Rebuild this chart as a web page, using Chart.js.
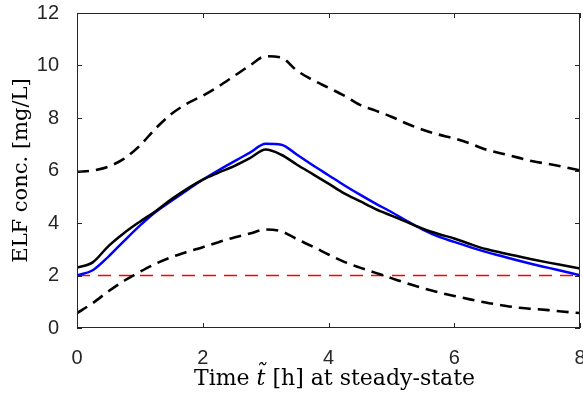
<!DOCTYPE html>
<html>
<head>
<meta charset="utf-8">
<script src="https://cdn.jsdelivr.net/npm/chart.js@4/dist/chart.umd.min.js"></script>
<style>
  html, body { margin: 0; padding: 0; background: #fff; }
  #wrap { width: 583px; height: 395px; }
</style>
</head>
<body>
<div id="wrap"><canvas id="elf"></canvas></div>
<script>
// ===== DATA =====
const times = [0, 0.25, 0.5, 0.75, 1, 1.25, 1.5, 1.75, 2, 2.25, 2.5, 2.75, 3, 3.25, 3.5, 3.75,
  4, 4.25, 4.5, 4.75, 5, 5.25, 5.5, 5.75, 6, 6.25, 6.5, 6.75, 7, 7.25, 7.5, 7.75, 8];

const medianConc = [2.3, 2.5, 3.12, 3.62, 4.05, 4.45, 4.9, 5.3, 5.65, 5.92, 6.17, 6.47, 6.8, 6.6, 6.22, 5.86,
  5.5, 5.13, 4.83, 4.53, 4.28, 4.03, 3.78, 3.58, 3.41, 3.2, 3.01, 2.87, 2.74, 2.61, 2.49, 2.38, 2.27];

const typicalConc = [2.0, 2.2, 2.72, 3.32, 3.9, 4.42, 4.84, 5.25, 5.65, 6.01, 6.35, 6.68, 7.02, 6.98, 6.6, 6.2,
  5.82, 5.44, 5.08, 4.74, 4.42, 4.07, 3.75, 3.48, 3.28, 3.08, 2.9, 2.74, 2.58, 2.43, 2.29, 2.15, 2.01];

const upperConc = [5.95, 6.0, 6.15, 6.45, 6.95, 7.6, 8.15, 8.55, 8.85, 9.2, 9.6, 10.0, 10.35, 10.3, 9.8, 9.45,
  9.15, 8.85, 8.5, 8.28, 8.05, 7.78, 7.55, 7.37, 7.22, 7.03, 6.8, 6.65, 6.5, 6.35, 6.25, 6.13, 6.0];

const lowerConc = [0.57, 0.95, 1.4, 1.8, 2.14, 2.45, 2.7, 2.9, 3.08, 3.27, 3.45, 3.6, 3.75, 3.68, 3.38, 3.1,
  2.8, 2.52, 2.3, 2.1, 1.9, 1.7, 1.52, 1.36, 1.22, 1.09, 0.97, 0.87, 0.78, 0.73, 0.68, 0.62, 0.57];

const targetConc = 2;       // MIC threshold
const xTicks = [0, 2, 4, 6, 8];
const yTicks = [0, 2, 4, 6, 8, 10, 12];

const AXIS = '#262626';
const pts = (arr) => times.map((t, i) => ({ x: t, y: arr[i] }));

// ===== BOX + INWARD TICKS (matlab style) =====
const boxPlugin = {
  id: 'box',
  afterDraw(chart) {
    const { ctx, chartArea: a, scales: { x, y } } = chart;
    ctx.save();
    ctx.strokeStyle = AXIS;
    ctx.lineWidth = 1;
    ctx.strokeRect(a.left + 0.5, a.top + 0.5, a.right - a.left - 1, a.bottom - a.top - 1);
    const len = 5;
    ctx.beginPath();
    xTicks.forEach(v => {
      const px = Math.round(x.getPixelForValue(v)) + 0.5;
      ctx.moveTo(px, a.bottom); ctx.lineTo(px, a.bottom - len);
      ctx.moveTo(px, a.top); ctx.lineTo(px, a.top + len);
    });
    yTicks.forEach(v => {
      const py = Math.round(y.getPixelForValue(v)) + 0.5;
      ctx.moveTo(a.left, py); ctx.lineTo(a.left + len, py);
      ctx.moveTo(a.right, py); ctx.lineTo(a.right - len, py);
    });
    ctx.stroke();

    // x axis title, with italic t-tilde
    ctx.fillStyle = '#000';
    ctx.textBaseline = 'alphabetic';
    const serif = "22px 'DejaVu Serif', serif";
    const ital = "italic 22px 'DejaVu Serif', serif";
    const parts = [['Time ', serif], ['t̃', ital], [' [h] at steady-state', serif]];
    let w = 0;
    parts.forEach(([s, f]) => { ctx.font = f; w += ctx.measureText(s).width; });
    let cx = (a.left + a.right) / 2 - w / 2 + 6;
    parts.forEach(([s, f]) => { ctx.font = f; ctx.fillText(s, cx, 385); cx += ctx.measureText(s).width; });
    ctx.restore();
  }
};

const tickFont = { family: "'Liberation Sans', Arial, sans-serif", size: 20 };

new Chart(document.getElementById('elf'), {
  type: 'scatter',
  data: {
    datasets: [
      {
        label: 'upper',
        data: pts(upperConc),
        borderColor: '#000',
        borderWidth: 2.6,
        borderDash: [12, 7],
        showLine: true,
        pointRadius: 0,
        cubicInterpolationMode: 'monotone',
      },
      {
        label: 'lower',
        data: pts(lowerConc),
        borderColor: '#000',
        borderWidth: 2.6,
        borderDash: [12, 7],
        showLine: true,
        pointRadius: 0,
        cubicInterpolationMode: 'monotone',
      },
      {
        label: 'median',
        data: pts(medianConc),
        borderColor: '#000',
        borderWidth: 2.5,
        showLine: true,
        pointRadius: 0,
        cubicInterpolationMode: 'monotone',
      },
      {
        label: 'typical',
        data: pts(typicalConc),
        borderColor: '#0000ff',
        borderWidth: 2.5,
        showLine: true,
        pointRadius: 0,
        cubicInterpolationMode: 'monotone',
      },
      {
        label: 'target',
        data: [{ x: 0, y: targetConc }, { x: 8, y: targetConc }],
        borderColor: 'rgb(255, 0, 0)',
        backgroundColor: 'rgb(255, 0, 0)',
        borderWidth: 1.4,
        borderDash: [13, 8],
        showLine: true,
        pointRadius: 0,
      },
    ]
  },
  options: {
    responsive: true,
    maintainAspectRatio: false,
    animation: false,
    layout: { padding: { left: 0, right: 3, top: 13, bottom: 0 } },
    plugins: {
      legend: { display: false },
      tooltip: { enabled: false },
    },
    scales: {
      x: {
        type: 'linear',
        min: 0, max: 8,
        afterBuildTicks: (s) => { s.ticks = xTicks.map(v => ({ value: v })); },
        afterFit: (s) => { s.height = 67; s.paddingLeft = 0; s.paddingRight = 0; },
        grid: { display: false },
        border: { display: false },
        ticks: { font: tickFont, color: AXIS, padding: 10, maxRotation: 0 },
      },
      y: {
        min: 0, max: 12,
        afterBuildTicks: (s) => { s.ticks = yTicks.map(v => ({ value: v })); },
        afterFit: (s) => { s.width = 77; s.paddingTop = 0; s.paddingBottom = 0; },
        grid: { display: false },
        border: { display: false },
        ticks: { font: tickFont, color: AXIS, padding: 10 },
        title: {
          display: true,
          text: 'ELF conc. [mg/L]',
          font: { family: "'DejaVu Serif', serif", size: 21 },
          color: '#000',
          padding: { top: 9, bottom: 0 },
        },
      }
    }
  },
  plugins: [boxPlugin]
});
</script>
</body>
</html>
